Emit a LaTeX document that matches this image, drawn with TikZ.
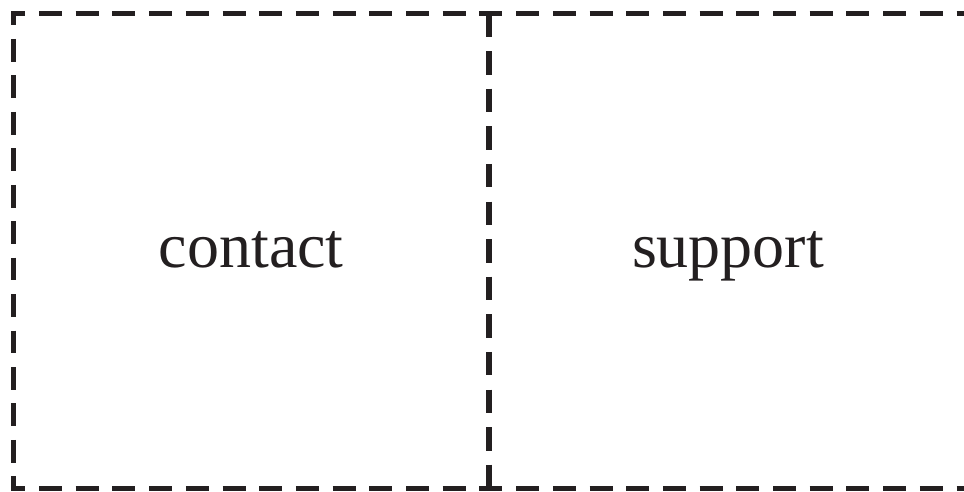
\documentclass[tikz,border=0pt]{standalone}
\usepackage{fontspec}
\setmainfont{Liberation Serif}
\usetikzlibrary{calc}
\definecolor{ink}{HTML}{231F20}
\begin{document}
\begin{tikzpicture}[x=1pt,y=-1pt,
  edge/.style={draw=ink,line width=5.3pt,line cap=butt},
  label/.style={text=ink,anchor=base,inner sep=0pt,font=\fontsize{64}{70}\selectfont}]
\useasboundingbox (0,0) rectangle (964,491);
\clip (0,0) rectangle (964,491);
% corner points
\coordinate (tl) at (13.5,13.5);
\coordinate (bl) at (13.5,488.5);
\coordinate (tm) at (489,13.5);
\coordinate (bm) at (489,488.5);
\coordinate (tr) at (1000,13.5);
\coordinate (br) at (1000,488.5);
% top and bottom edges
\draw[edge,dash pattern=on 23pt off 13.7pt,dash phase=11.2pt] (tl) -- (tr);
\draw[edge,dash pattern=on 23pt off 13.7pt,dash phase=11.2pt] (bl) -- (br);
% left edge
\draw[edge,dash pattern=on 22.8pt off 13.65pt,dash phase=11pt] (tl) -- (bl);
% middle divider
\draw[edge,dash pattern=on 23.5pt off 14.1pt] (tm) -- (bm);
% square outer corners
\fill[ink] ($(tl)+(-2.65,-2.65)$) rectangle ++(5.3,5.3);
\fill[ink] ($(bl)+(-2.65,-2.65)$) rectangle ++(5.3,5.3);
% labels
\node[label] (contact) at (251.25,267) {contact};
\node[label] (support) at (728,267) {support};
\end{tikzpicture}
\end{document}
